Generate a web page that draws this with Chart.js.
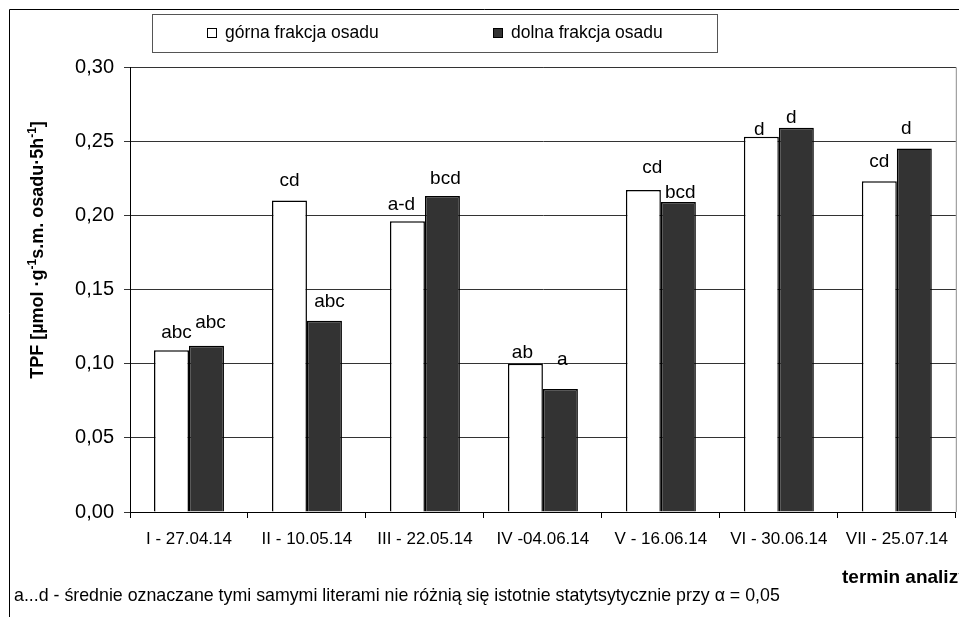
<!DOCTYPE html>
<html>
<head>
<meta charset="utf-8">
<script src="https://cdn.jsdelivr.net/npm/chart.js@4/dist/chart.umd.min.js"></script>
<style>
  html, body { margin:0; padding:0; background:#fff; overflow:hidden; }
  canvas { display:block; }
</style>
</head>
<body>
<canvas id="chart" width="959" height="617"></canvas>
<script>
// ---- data ----
const terms = ['I - 27.04.14','II - 10.05.14','III - 22.05.14','IV -04.06.14','V - 16.06.14','VI - 30.06.14','VII - 25.07.14'];
const upperFraction = [0.109, 0.210, 0.196, 0.100, 0.217, 0.253, 0.223];
const lowerFraction = [0.112, 0.129, 0.213, 0.083, 0.209, 0.259, 0.245];
const upperLetters = ['abc','cd','a-d','ab','cd','d','cd'];
const lowerLetters = ['abc','abc','bcd','a','bcd','d','d'];
const seriesNames = ['górna frakcja osadu','dolna frakcja osadu'];

const FONT = '"Liberation Sans", Arial, sans-serif';

// label nudges (px) relative to bar top, as placed by hand in the original
const labelNudge = {
  0: { lift:[18,20,17,11,22,7,19], dx:[5,0,-6,-3,9,-2,0] },
  1: { lift:[23,19,17,29,9,10,20], dx:[4,5,3,2,2,-5,-8] }
};
const letters = [upperLetters, lowerLetters];

function drawRich(ctx, parts, cx, cy){
  // parts: [text, sup?]; drawn rotated -90deg, centred at cx,cy
  ctx.save();
  ctx.translate(cx, cy);
  ctx.rotate(-Math.PI/2);
  ctx.fillStyle = '#000';
  ctx.textBaseline = 'alphabetic';
  const big = 'bold 18px ' + FONT, small = 'bold 12px ' + FONT;
  let total = 0;
  parts.forEach(p => { ctx.font = p[1] ? small : big; total += ctx.measureText(p[0]).width; });
  let x = -total/2;
  parts.forEach(p => {
    ctx.font = p[1] ? small : big;
    ctx.fillText(p[0], x, p[1] ? -1 : 6);
    x += ctx.measureText(p[0]).width;
  });
  ctx.restore();
}

const decor = {
  id:'decor',
  beforeDraw(chart){
    const ctx = chart.ctx, a = chart.chartArea;
    ctx.save();
    ctx.fillStyle = '#fff';
    ctx.fillRect(0,0,chart.width,chart.height);
    // outer frame
    ctx.strokeStyle = '#000'; ctx.lineWidth = 1;
    ctx.beginPath(); ctx.moveTo(9.5, chart.height); ctx.lineTo(9.5, 9.5); ctx.lineTo(chart.width, 9.5); ctx.stroke();
    // plot area border (top/right)
    ctx.strokeStyle = '#8c8c8c';
    ctx.beginPath(); ctx.moveTo(a.left, a.top+0.5); ctx.lineTo(a.right+0.5, a.top+0.5); ctx.lineTo(a.right+0.5, a.bottom); ctx.stroke();
    ctx.restore();
  },
  afterDraw(chart){
    const ctx = chart.ctx;
    ctx.save();
    // legend box
    ctx.strokeStyle = '#555'; ctx.lineWidth = 1;
    ctx.strokeRect(152.5, 14.5, 565, 38);
    const items = [[207, '#fff'], [493, '#333']];
    ctx.font = '17.5px ' + FONT; ctx.textBaseline = 'middle'; ctx.fillStyle = '#000';
    items.forEach((it, i) => {
      ctx.fillStyle = it[1]; ctx.fillRect(it[0]+0.5, 28.5, 9, 9);
      ctx.strokeStyle = '#000'; ctx.strokeRect(it[0]+0.5, 28.5, 9, 9);
      ctx.fillStyle = '#000'; ctx.fillText(seriesNames[i], it[0]+18, 33);
    });
    // y axis title with superscripts
    drawRich(ctx, [['TPF [µmol ·g'],['-1',1],['s.m. osadu·5h'],['-1',1],[']']], 37, 250);
    // x axis title (runs off the right edge as in the original)
    ctx.font = 'bold 19px ' + FONT; ctx.textBaseline = 'middle'; ctx.textAlign = 'left';
    ctx.fillText('termin analizy', 842, 578);
    // footnote
    ctx.font = '17.8px ' + FONT;
    ctx.fillText('a...d - średnie oznaczane tymi samymi literami nie różnią się istotnie statytsytycznie przy α = 0,05', 14, 596);
    ctx.restore();
  },
  afterDatasetsDraw(chart){
    const ctx = chart.ctx;
    ctx.save();
    ctx.font = '19px ' + FONT; ctx.fillStyle = '#000';
    ctx.textAlign = 'center'; ctx.textBaseline = 'middle';
    chart.data.datasets.forEach((ds, di) => {
      chart.getDatasetMeta(di).data.forEach((bar, i) => {
        const n = labelNudge[di];
        ctx.fillText(letters[di][i], bar.x + n.dx[i], bar.y - n.lift[i]);
      });
    });
    ctx.restore();
  }
};

new Chart(document.getElementById('chart'), {
  type:'bar',
  data:{
    labels: terms,
    datasets:[
      { label: seriesNames[0], data: upperFraction, backgroundColor:'#fff', borderColor:'#000', borderWidth:1.5 },
      { label: seriesNames[1], data: lowerFraction, backgroundColor:'#333', borderColor:'#000', borderWidth:1.5 }
    ]
  },
  options:{
    responsive:false,
    animation:false,
    layout:{ padding:{ left:0, right:2, top:67, bottom:0 } },
    categoryPercentage:0.593,
    barPercentage:1,
    plugins:{ legend:{ display:false }, tooltip:{ enabled:false } },
    scales:{
      x:{
        grid:{ offset:true, drawOnChartArea:false, tickLength:6, color:'#000' },
        border:{ color:'#000' },
        ticks:{ color:'#000', font:{ family:FONT, size:17 }, padding:11, maxRotation:0, autoSkip:false },
        afterFit(s){ s.height = 105; }
      },
      y:{
        min:0, max:0.3,
        grid:{ color:'#333', tickLength:6 },
        border:{ color:'#000' },
        ticks:{ stepSize:0.05, color:'#000', font:{ family:FONT, size:20 }, padding:10,
                callback: v => v.toFixed(2).replace('.', ',') },
        afterFit(s){ s.width = 130; }
      }
    }
  },
  plugins:[decor]
});
</script>
</body>
</html>
